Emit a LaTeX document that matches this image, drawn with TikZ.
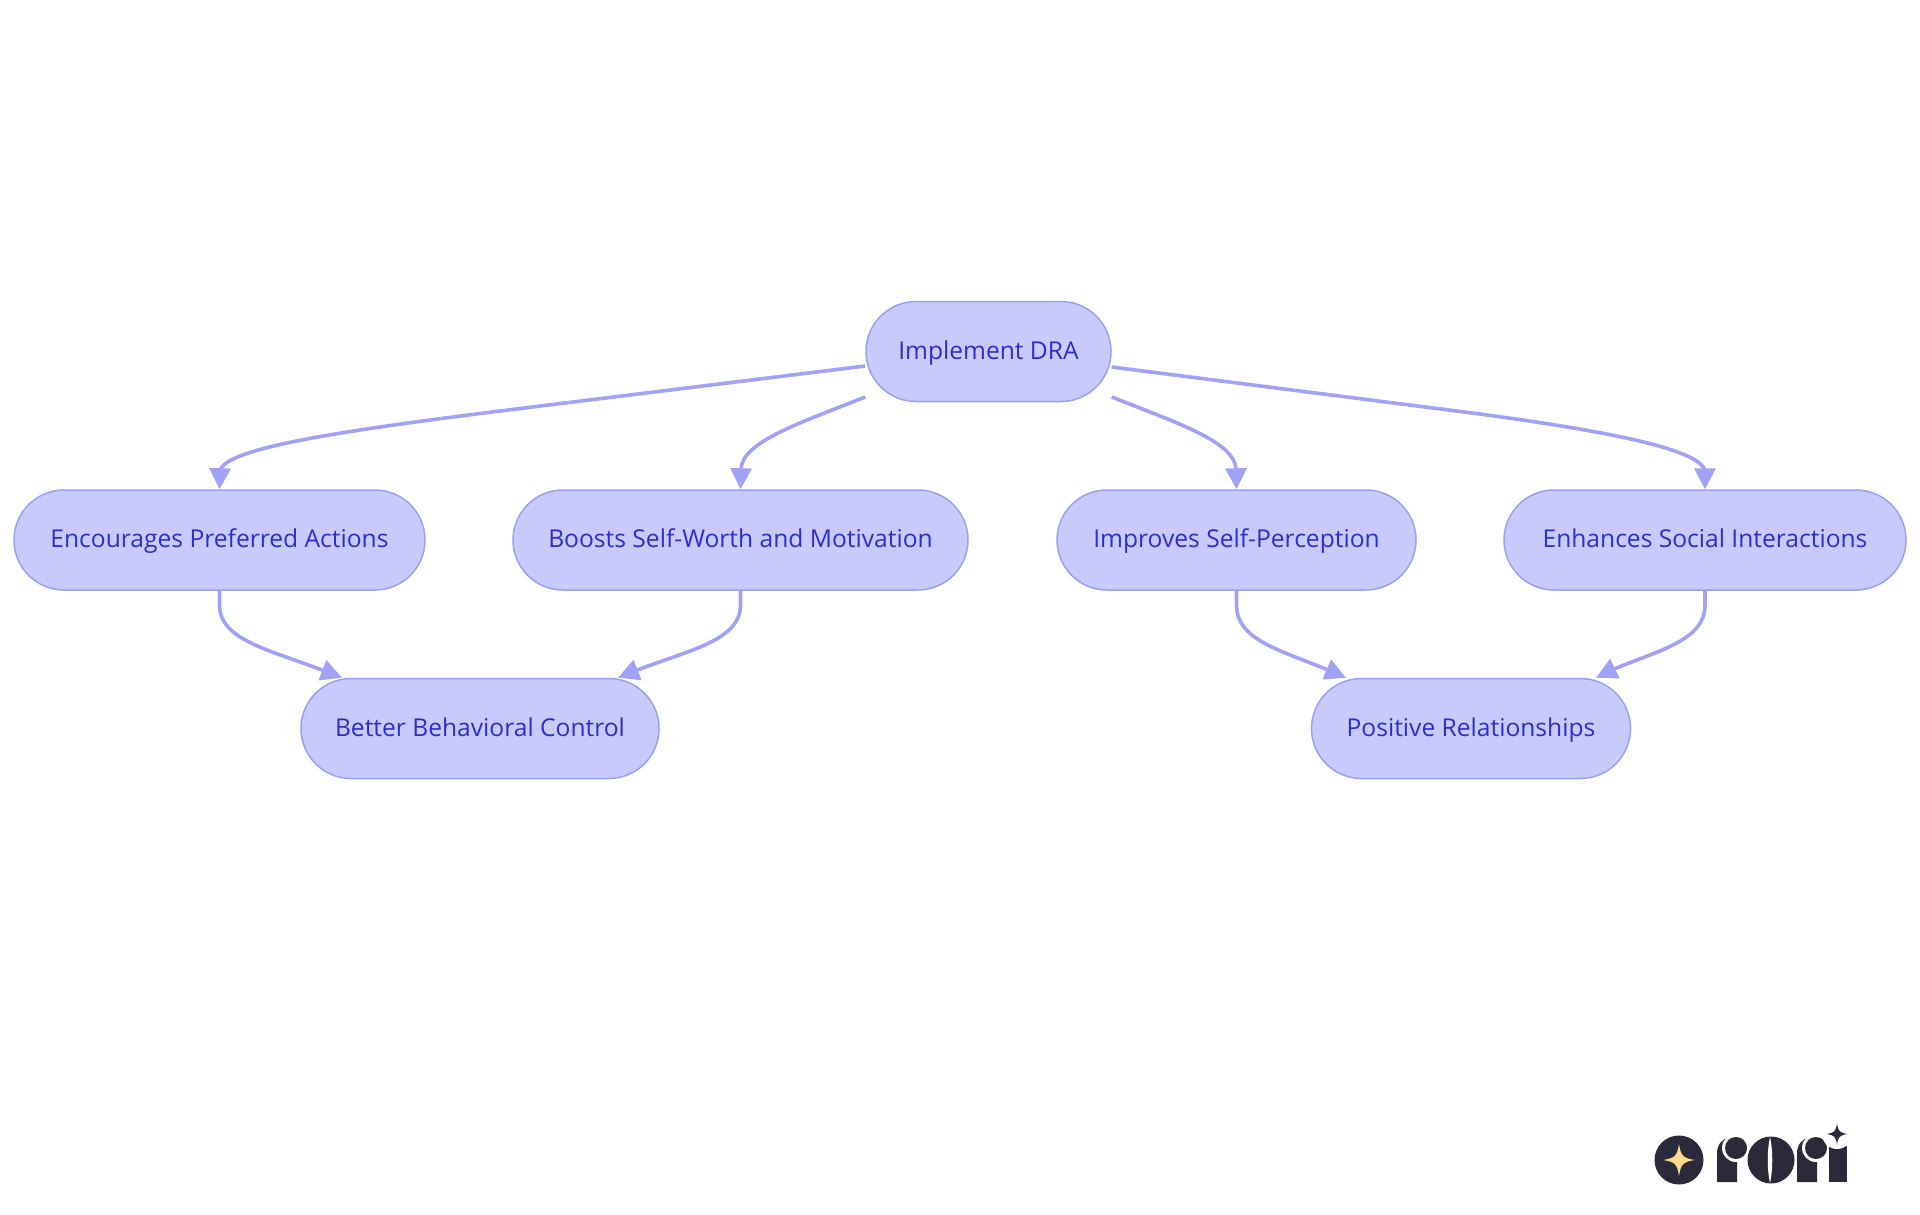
\documentclass[tikz,border=0pt]{standalone}
\usepackage{fontspec}
\setmainfont{Open Sans}
\usetikzlibrary{arrows.meta}
\definecolor{nodefill}{HTML}{C8CAFD}
\definecolor{nodeline}{HTML}{9AA0F3}
\definecolor{nodetext}{HTML}{2B2FCC}
\definecolor{edgecol}{HTML}{A0A3F5}
\definecolor{logodark}{HTML}{2A2A3A}
\definecolor{logogold}{HTML}{FFD98A}
\newcommand{\logostar}[4]{% x y radius colour
  \fill[#4] (#1,#2-#3) .. controls (#1+0.12*#3,#2-0.25*#3) and (#1+0.25*#3,#2-0.12*#3) .. (#1+#3,#2)
    .. controls (#1+0.25*#3,#2+0.12*#3) and (#1+0.12*#3,#2+0.25*#3) .. (#1,#2+#3)
    .. controls (#1-0.12*#3,#2+0.25*#3) and (#1-0.25*#3,#2+0.12*#3) .. (#1-#3,#2)
    .. controls (#1-0.25*#3,#2-0.12*#3) and (#1-0.12*#3,#2-0.25*#3) .. (#1,#2-#3) -- cycle;}
\newcommand{\logor}[1]{% x of stem left
  \fill[logodark] (#1,1182) -- (#1,1153) .. controls (#1,1145) and (#1+5,1138) .. (#1+13,1138) -- (#1+20,1138) -- (#1+20,1182) -- cycle;
  \fill[white] (#1+19,1148) circle[radius=14];
  \fill[logodark] (#1+19,1148) circle[radius=11];}
\tikzset{
  pill/.style={draw=nodeline,fill=nodefill,line width=1.5pt,rounded corners=50pt,
    minimum height=100pt,inner sep=0pt,text=nodetext,text height=19pt,text depth=4pt,
    font=\fontsize{24.6}{28}\selectfont},
  edge/.style={draw=edgecol,line width=3.6pt,-{Triangle[length=21pt,width=21pt]}}
}
\begin{document}
\begin{tikzpicture}[x=1pt,y=-1pt]
\useasboundingbox (0,0) rectangle (1920,1215);
\node[pill,minimum width=245pt] (root) at (988.5,351.5) {Implement DRA};
\node[pill,minimum width=411pt] (enc) at (219.5,540) {Encourages Preferred Actions};
\node[pill,minimum width=455pt] (boost) at (740.5,540) {Boosts Self-Worth and Motivation};
\node[pill,minimum width=359pt] (imp) at (1236.5,540) {Improves Self-Perception};
\node[pill,minimum width=402pt] (soc) at (1705,540) {Enhances Social Interactions};
\node[pill,minimum width=358pt] (beh) at (480,728.5) {Better Behavioral Control};
\node[pill,minimum width=319pt] (pos) at (1471,728.5) {Positive Relationships};

\draw[edge] ([yshift=-14.5pt]root.west) -- (500,411) .. controls (315,434) and (228,450) .. (220,470) -- (enc.north);
\draw[edge] ([yshift=-45.5pt]root.west) .. controls (800,423) and (741,442) .. (741,470) -- (boost.north);
\draw[edge] ([yshift=-45.5pt]root.east) .. controls (1177,423) and (1236,442) .. (1236,470) -- (imp.north);
\draw[edge] ([yshift=-15.5pt]root.east) -- (1480,414) .. controls (1620,433) and (1697,450) .. (1705,470) -- (soc.north);
\draw[edge] (enc.south) -- (219.5,605) .. controls (219.5,640) and (270,650) .. (322,670) -- ([xshift=-138pt]beh.north);
\draw[edge] (boost.south) -- (740.5,605) .. controls (740.5,640) and (690,650) .. (640,669) -- ([xshift=138pt]beh.north);
\draw[edge] (imp.south) -- (1236.5,605) .. controls (1236.5,640) and (1280,650) .. (1328,670) -- ([xshift=-125pt]pos.north);
\draw[edge] (soc.south) -- (1705,605) .. controls (1705,640) and (1660,650) .. (1614,669) -- ([xshift=125pt]pos.north);

% logo
\fill[logodark] (1679,1160) circle[radius=24.5];
\logostar{1679}{1160}{16}{logogold}
\logor{1717}
\fill[logodark] (1771,1160) circle[radius=23.5];
\fill[white] (1770,1137) .. controls (1767,1150) and (1767,1170) .. (1770,1183) .. controls (1773,1170) and (1773,1150) .. (1770,1137) -- cycle;
\logor{1797}
\fill[logodark] (1829,1146) rectangle (1847,1182);
\fill[white] (1837,1134) circle[radius=15];
\logostar{1837}{1134}{10.5}{logodark}
\end{tikzpicture}
\end{document}
